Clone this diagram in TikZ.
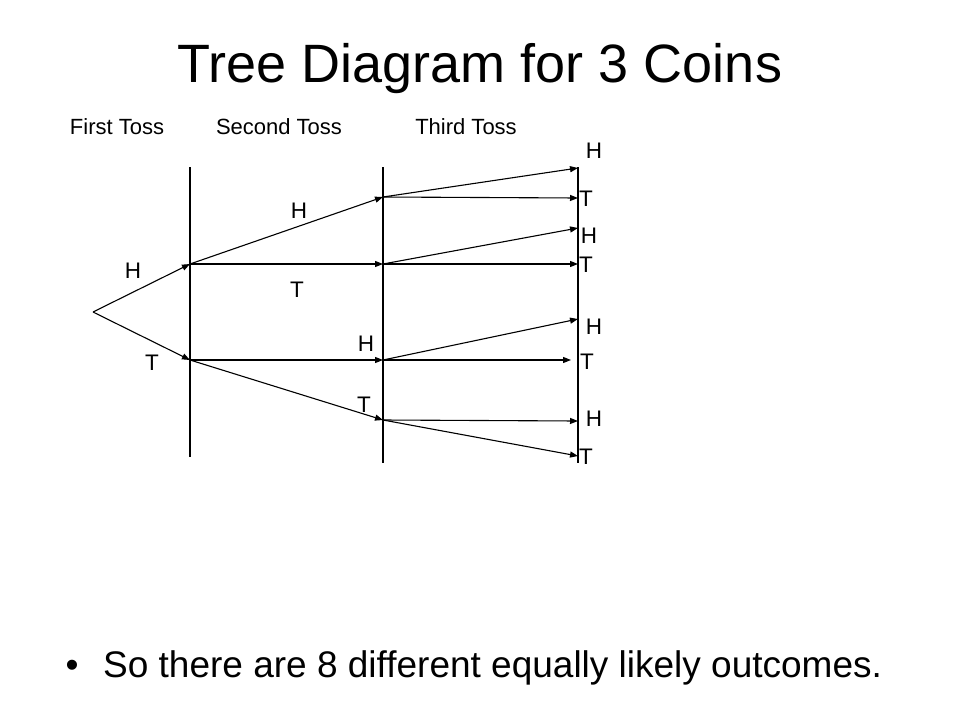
\documentclass[tikz,border=0pt]{standalone}
\usepackage{fontspec}
\setmainfont{Liberation Sans}
\usetikzlibrary{arrows.meta}
\begin{document}
\begin{tikzpicture}[x=1pt,y=-1pt,
  branch/.style={line width=1.1pt,-{Triangle[length=8pt,width=6pt]}},
  axisline/.style={line width=1.1pt},
  lbl/.style={anchor=base,inner sep=0pt,font=\fontsize{22.5}{26}\selectfont},
  hdr/.style={anchor=base,inner sep=0pt,font=\fontsize{22}{26}\selectfont}]
\useasboundingbox[fill=white] (0,0) rectangle (960,720);
% title
\node[anchor=base,inner sep=0pt,font=\fontsize{54}{60}\selectfont] (title) at (480,82) {Tree Diagram for 3 Coins};
% headers
\node[hdr] (h1) at (117,134) {First Toss};
\node[hdr] (h2) at (279,134) {Second Toss};
\node[hdr] (h3) at (466,134) {Third Toss};
% vertical lines
\coordinate (v1t) at (190,167); \coordinate (v1b) at (190,457);
\coordinate (v2t) at (383,167); \coordinate (v2b) at (383,463);
\coordinate (v3t) at (578,167); \coordinate (v3b) at (578,463);
\draw[axisline] (v1t) -- (v1b);
\draw[axisline] (v2t) -- (v2b);
\draw[axisline] (v3t) -- (v3b);
% tree points
\coordinate (root) at (93,312);
\coordinate (a1) at (190,264);
\coordinate (a2) at (190,360);
\coordinate (b1) at (383,197);
\coordinate (b2) at (383,264);
\coordinate (b3) at (383,360);
\coordinate (b4) at (383,420);
\coordinate (c1) at (578,168);
\coordinate (c2) at (578,198);
\coordinate (c3) at (578,228);
\coordinate (c4) at (578,264);
\coordinate (c5) at (578,319);
\coordinate (c6) at (571,360);
\coordinate (c7) at (578,421);
\coordinate (c8) at (578,456);
% branches
\draw[branch] (root) -- (a1);
\draw[branch] (root) -- (a2);
\draw[branch] (a1) -- (b1);
\draw[branch] (a1) -- (b2);
\draw[branch] (a2) -- (b3);
\draw[branch] (a2) -- (b4);
\draw[branch] (b1) -- (c1);
\draw[branch] (b1) -- (c2);
\draw[branch] (b2) -- (c3);
\draw[branch] (b2) -- (c4);
\draw[branch] (b3) -- (c5);
\draw[branch] (b3) -- (c6);
\draw[branch] (b4) -- (c7);
\draw[branch] (b4) -- (c8);
% labels
\node[lbl] (l1h) at (133,278) {H};
\node[lbl] (l1t) at (152,370) {T};
\node[lbl] (l2h1) at (299,218) {H};
\node[lbl] (l2t1) at (297,297) {T};
\node[lbl] (l2h2) at (366,351) {H};
\node[lbl] (l2t2) at (364,412) {T};
\node[lbl] (o1) at (594,158) {H};
\node[lbl] (o2) at (586,206) {T};
\node[lbl] (o3) at (589,243) {H};
\node[lbl] (o4) at (586,272) {T};
\node[lbl] (o5) at (594,334) {H};
\node[lbl] (o6) at (587,369) {T};
\node[lbl] (o7) at (594,426) {H};
\node[lbl] (o8) at (586,464) {T};
% bullet text
\node[anchor=base,inner sep=0pt,font=\fontsize{37}{42}\selectfont] (bul) at (72,677) {•};
\node[anchor=base west,inner sep=0pt,font=\fontsize{37}{42}\selectfont] (txt) at (103,677) {So there are 8 different equally likely outcomes.};
\end{tikzpicture}
\end{document}
